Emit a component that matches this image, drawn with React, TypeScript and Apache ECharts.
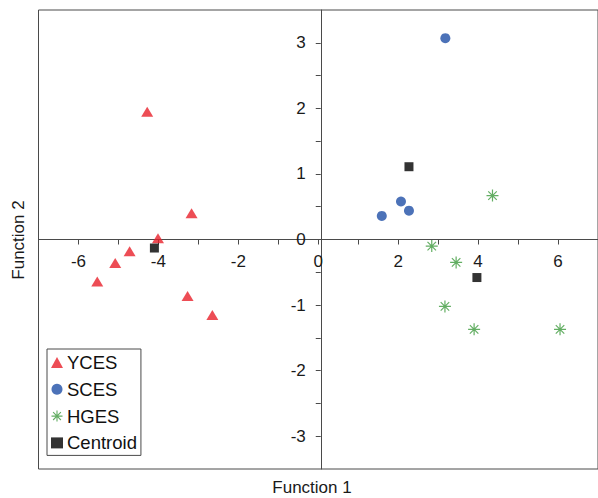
import React, { useEffect, useRef } from 'react';
import * as echarts from 'echarts';

// Discriminant function scores
const ycesX = [-4.28, -3.17, -4.01, -4.72, -5.08, -5.53, -3.27, -2.65];
const ycesY = [1.95, 0.4, 0.02, -0.18, -0.36, -0.64, -0.86, -1.15];
const scesX = [3.18, 1.59, 2.07, 2.27];
const scesY = [3.07, 0.36, 0.58, 0.44];
const hgesX = [4.36, 2.84, 3.45, 3.17, 3.9, 6.05];
const hgesY = [0.67, -0.1, -0.35, -1.02, -1.37, -1.37];
const centroidX = [-4.1, 2.27, 3.97];
const centroidY = [-0.13, 1.11, -0.58];

const seriesNames = ['YCES', 'SCES', 'HGES', 'Centroid'];
const xTitle = 'Function 1';
const yTitle = 'Function 2';

const starPath =
  'path://M45,0L55,0L55,100L45,100Z M0,45L100,45L100,55L0,55Z M18.1,11.1L88.9,81.9L81.9,88.9L11.1,18.1Z M88.9,18.1L18.1,88.9L11.1,81.9L81.9,11.1Z';

const zip = (xs: number[], ys: number[]) => xs.map((x, i) => [x, ys[i]]);

const FONT = 'Liberation Sans, Arial, sans-serif';

// plot geometry
const GRID_LEFT = 38.5;
const GRID_TOP = 10;
const GRID_BOTTOM = 29;
const GRID_RIGHT = -5;
const X_MIN = -7;
const X_MAX = 7;
const Y_MIN = -3.5;
const Y_MAX = 3.5;

export default function App() {
  const ref = useRef<HTMLDivElement>(null);
  useEffect(() => {
    if (!ref.current) return;
    const W = 598;
    const H = 498;
    const plotW = W - GRID_LEFT - GRID_RIGHT;
    const plotH = H - GRID_TOP - GRID_BOTTOM;
    const zeroXpx = GRID_LEFT + ((0 - X_MIN) / (X_MAX - X_MIN)) * plotW;
    const zeroYpx = GRID_TOP + ((Y_MAX - 0) / (Y_MAX - Y_MIN)) * plotH;
    const xOffset = -(GRID_TOP + plotH - zeroYpx);
    const yOffset = -(zeroXpx - GRID_LEFT);

    const chart = echarts.init(ref.current, undefined, { renderer: 'svg' });
    chart.setOption({
      animation: false,
      backgroundColor: '#ffffff',
      grid: {
        left: GRID_LEFT,
        top: GRID_TOP,
        right: GRID_RIGHT,
        bottom: GRID_BOTTOM,
        show: true,
        borderColor: '#4a4a4a',
        borderWidth: 1,
        backgroundColor: 'transparent',
      },
      xAxis: {
        type: 'value',
        position: 'bottom',
        offset: xOffset,
        min: X_MIN,
        max: X_MAX,
        interval: 1,
        splitLine: { show: false },
        axisLine: { onZero: false, lineStyle: { color: '#4a4a4a', width: 1 } },
        axisTick: { show: true, length: 5, lineStyle: { color: '#4a4a4a' } },
        axisLabel: {
          margin: 13,
          fontSize: 17,
          fontFamily: FONT,
          color: '#1a1a1a',
          showMinLabel: false,
          showMaxLabel: false,
          formatter: (v: number) => (Math.abs(v % 2) === 0 ? String(v) : ''),
        },
      },
      yAxis: {
        type: 'value',
        position: 'left',
        offset: yOffset,
        min: Y_MIN,
        max: Y_MAX,
        interval: 0.5,
        splitLine: { show: false },
        axisLine: { onZero: false, lineStyle: { color: '#4a4a4a', width: 1 } },
        axisTick: { show: true, length: 5, lineStyle: { color: '#4a4a4a' } },
        axisLabel: {
          margin: 15,
          fontSize: 17,
          fontFamily: FONT,
          color: '#1a1a1a',
          showMinLabel: false,
          showMaxLabel: false,
          formatter: (v: number) => (Number.isInteger(v) ? String(v) : ''),
        },
      },
      legend: {
        orient: 'vertical',
        left: 47,
        top: 349,
        padding: [4, 4, 3, 4],
        borderColor: '#4a4a4a',
        borderWidth: 1,
        itemWidth: 12,
        itemHeight: 11,
        itemGap: 7.8,
        textStyle: { fontSize: 18.5, fontFamily: FONT, color: '#111', padding: [0, 0, 0, -1] },
        data: seriesNames,
      },
      graphic: [
        {
          type: 'text',
          x: 312,
          y: 487,
          style: {
            text: xTitle,
            fontSize: 17,
            fontFamily: FONT,
            fill: '#1a1a1a',
            textAlign: 'center',
            textVerticalAlign: 'middle',
          },
        },
        {
          type: 'text',
          x: 18,
          y: 240,
          rotation: Math.PI / 2,
          style: {
            text: yTitle,
            fontSize: 17,
            fontFamily: FONT,
            fill: '#1a1a1a',
            textAlign: 'center',
            textVerticalAlign: 'middle',
          },
        },
      ],
      series: [
        {
          name: seriesNames[0],
          type: 'scatter',
          symbol: 'triangle',
          symbolSize: [12, 10],
          itemStyle: { color: '#e8212a' },
          data: zip(ycesX, ycesY),
        },
        {
          name: seriesNames[1],
          type: 'scatter',
          symbol: 'circle',
          symbolSize: 10,
          itemStyle: { color: '#1f4fa6' },
          data: zip(scesX, scesY),
        },
        {
          name: seriesNames[2],
          type: 'scatter',
          symbol: starPath,
          symbolSize: 12,
          itemStyle: { color: '#3c9a3c' },
          data: zip(hgesX, hgesY),
        },
        {
          name: seriesNames[3],
          type: 'scatter',
          symbol: 'rect',
          symbolSize: 9,
          itemStyle: { color: '#000000' },
          data: zip(centroidX, centroidY),
        },
      ],
    });
    return () => chart.dispose();
  }, []);
  return (
    <div
      ref={ref}
      style={{ position: 'fixed', left: 0, top: 0, width: 598, height: 498, background: '#fff' }}
    />
  );
}
